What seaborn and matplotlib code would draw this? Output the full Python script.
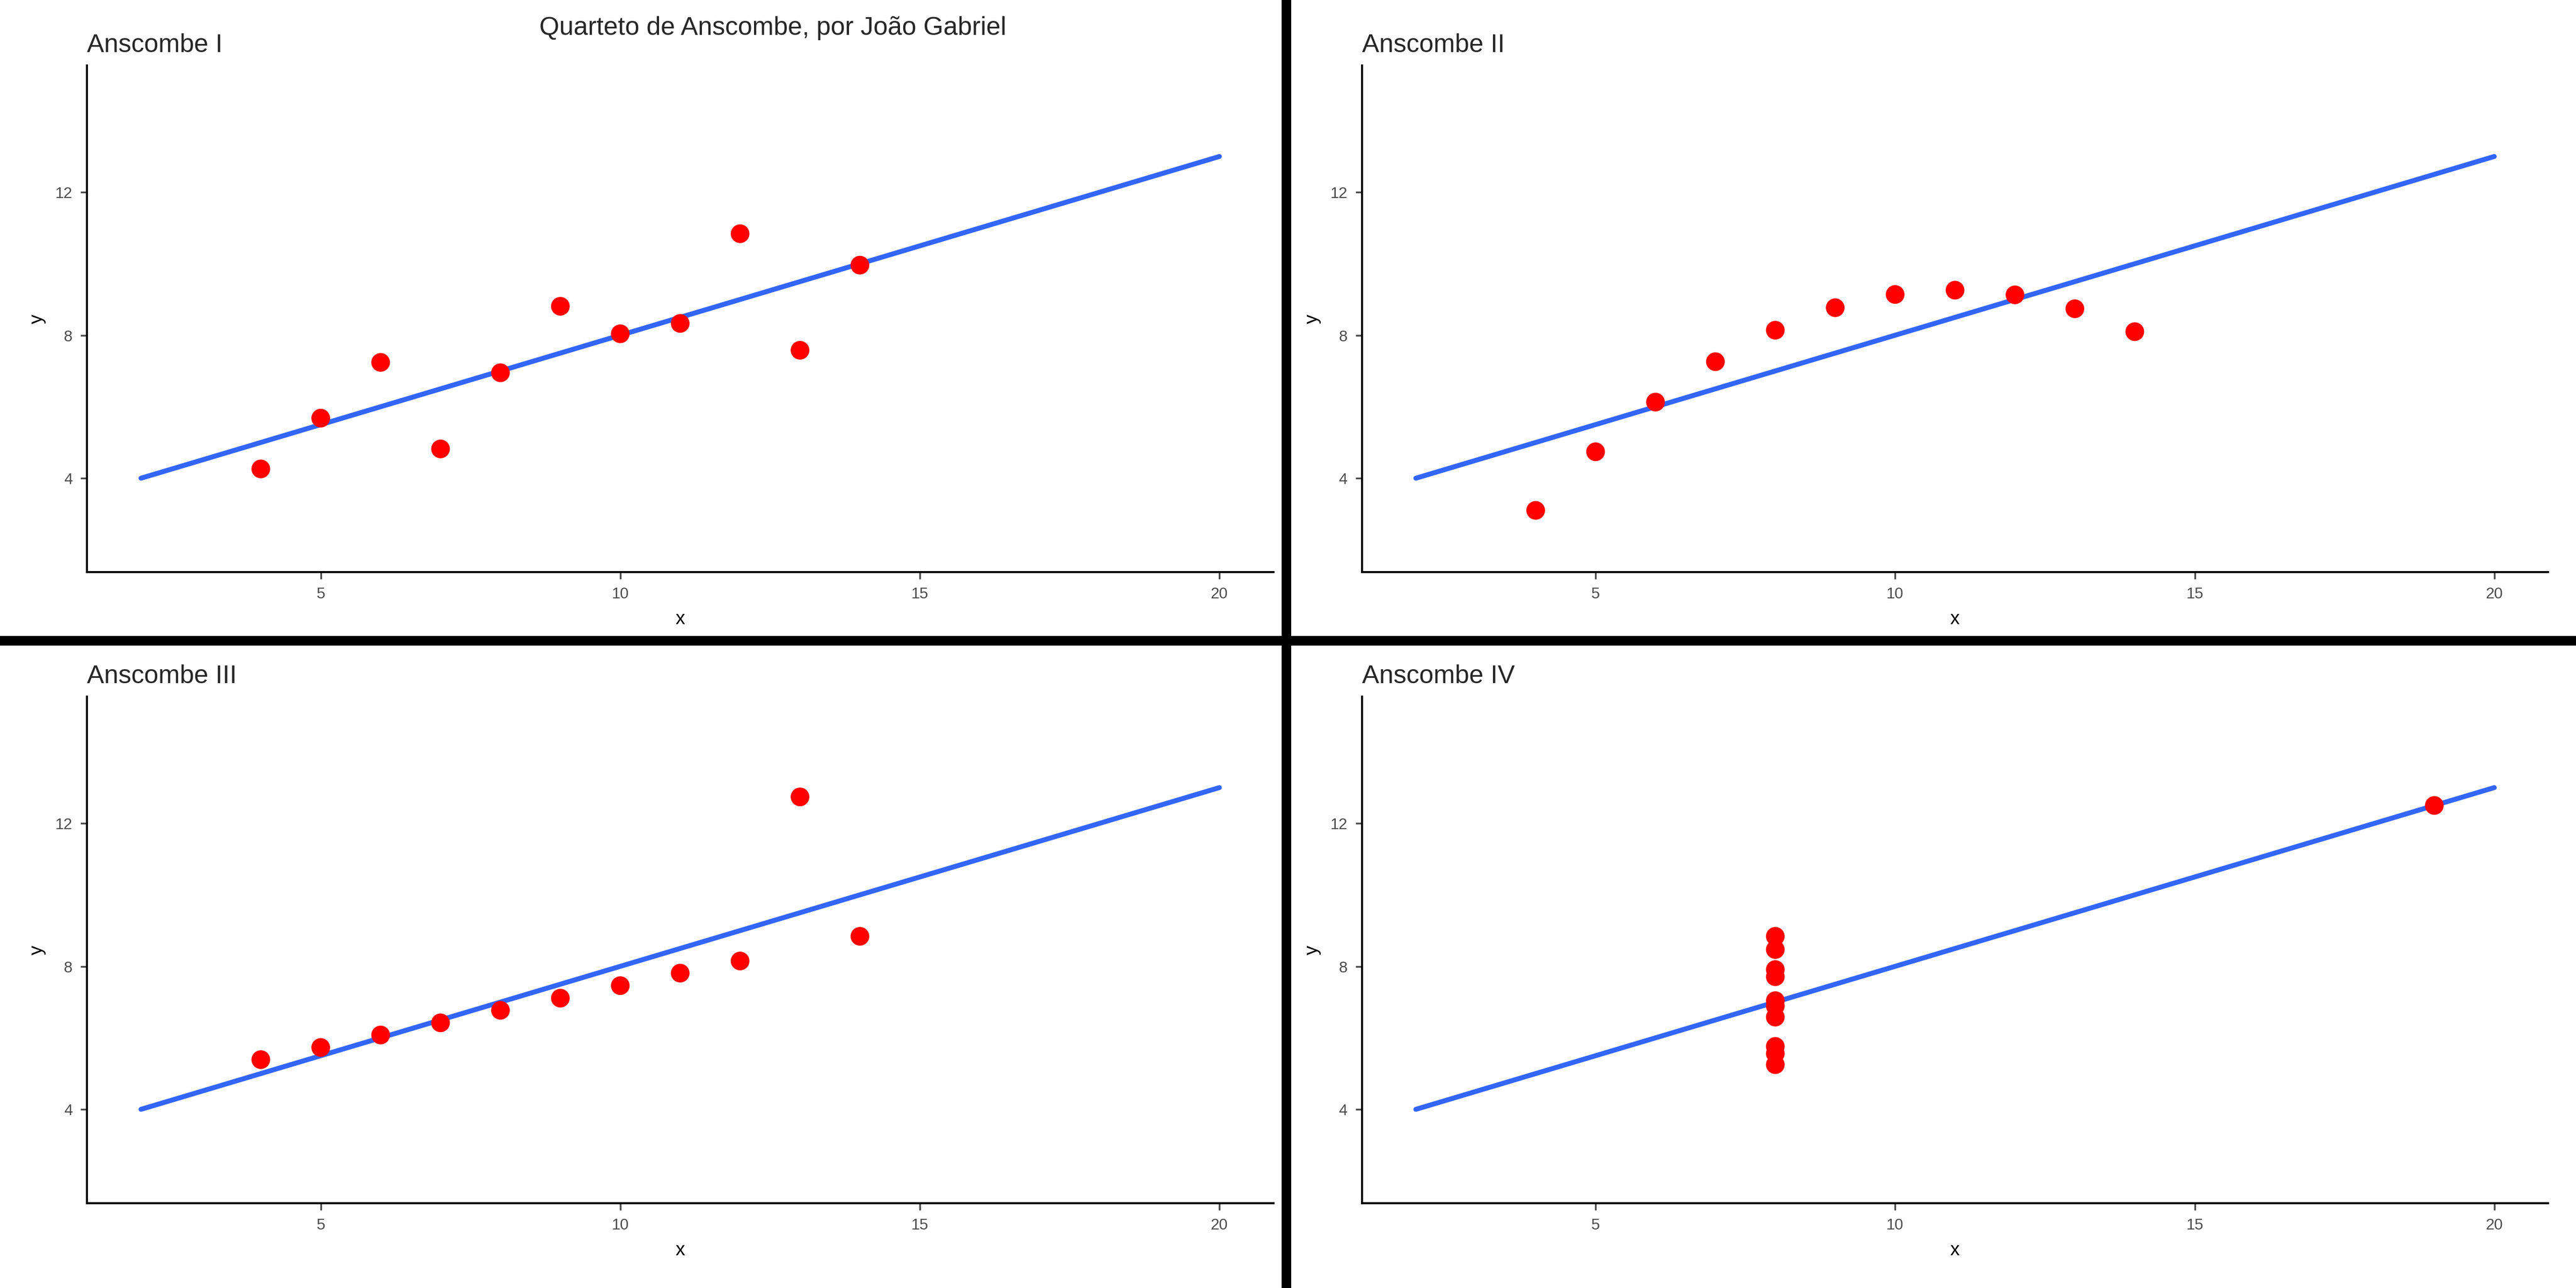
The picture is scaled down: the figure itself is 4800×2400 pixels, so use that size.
import matplotlib
matplotlib.use("Agg")
import matplotlib.pyplot as plt
import seaborn as sns
import pandas as pd
from matplotlib.lines import Line2D

sns.set_theme(style="white")
plt.rcParams['font.family'] = ['Liberation Sans', 'DejaVu Sans']

x123 = [10, 8, 13, 9, 11, 14, 6, 4, 12, 7, 5]
y1 = [8.04, 6.95, 7.58, 8.81, 8.33, 9.96, 7.24, 4.26, 10.84, 4.82, 5.68]
y2 = [9.14, 8.14, 8.74, 8.77, 9.26, 8.10, 6.13, 3.10, 9.13, 7.26, 4.74]
y3 = [7.46, 6.77, 12.74, 7.11, 7.81, 8.84, 6.08, 5.39, 8.15, 6.42, 5.73]
x4 = [8, 8, 8, 8, 8, 8, 8, 19, 8, 8, 8]
y4 = [6.58, 5.76, 7.71, 8.84, 8.47, 7.04, 5.25, 12.50, 5.56, 7.91, 6.89]
titles = ["Anscombe I", "Anscombe II", "Anscombe III", "Anscombe IV"]
line_x = [2, 20]
line_y = [4, 13]

sets = [(x123, y1), (x123, y2), (x123, y3), (x4, y4)]
fig = plt.figure(figsize=(16, 8), dpi=300)
positions = [(0.0338, 0.556), (0.5287, 0.556), (0.0338, 0.066), (0.5287, 0.066)]
w, h = 0.4605, 0.393
for (xs, ys), t, (l, b) in zip(sets, titles, positions):
    ax = fig.add_axes([l, b, w, h])
    df = pd.DataFrame({"x": xs, "y": ys})
    ln = pd.DataFrame({"x": line_x, "y": line_y})
    sns.lineplot(data=ln, x="x", y="y", ax=ax, color="#3366FF", linewidth=2.2)
    sns.scatterplot(data=df, x="x", y="y", ax=ax, color="red", s=70, edgecolor="none", zorder=3)
    ax.set_xlim(1.1, 20.9)
    ax.set_ylim(1.38, 15.54)
    ax.set_xticks([5, 10, 15, 20])
    ax.set_yticks([4, 8, 12])
    for s in ["top", "right"]:
        ax.spines[s].set_visible(False)
    for s in ["left", "bottom"]:
        ax.spines[s].set_color("black")
        ax.spines[s].set_linewidth(0.9)
    ax.tick_params(axis="both", colors="#4D4D4D", labelsize=7, length=3, width=0.8,
                   left=True, bottom=True, direction="out")
    ax.set_xlabel("x", fontsize=8.5, color="black")
    ax.set_ylabel("y", fontsize=8.5, color="black")
    ax.set_title(t, loc="left", fontsize=11.5, pad=6, x=0.0)

fig.text(0.30, 0.978, "Quarteto de Anscombe, por João Gabriel", ha="center", va="center", fontsize=11.5)
fig.add_artist(Line2D([0.4994, 0.4994], [0, 1], color="black", linewidth=4.3, transform=fig.transFigure))
fig.add_artist(Line2D([0, 1], [0.5026, 0.5026], color="black", linewidth=4.3, transform=fig.transFigure))
fig.savefig("out.png", dpi=300, facecolor="white")
